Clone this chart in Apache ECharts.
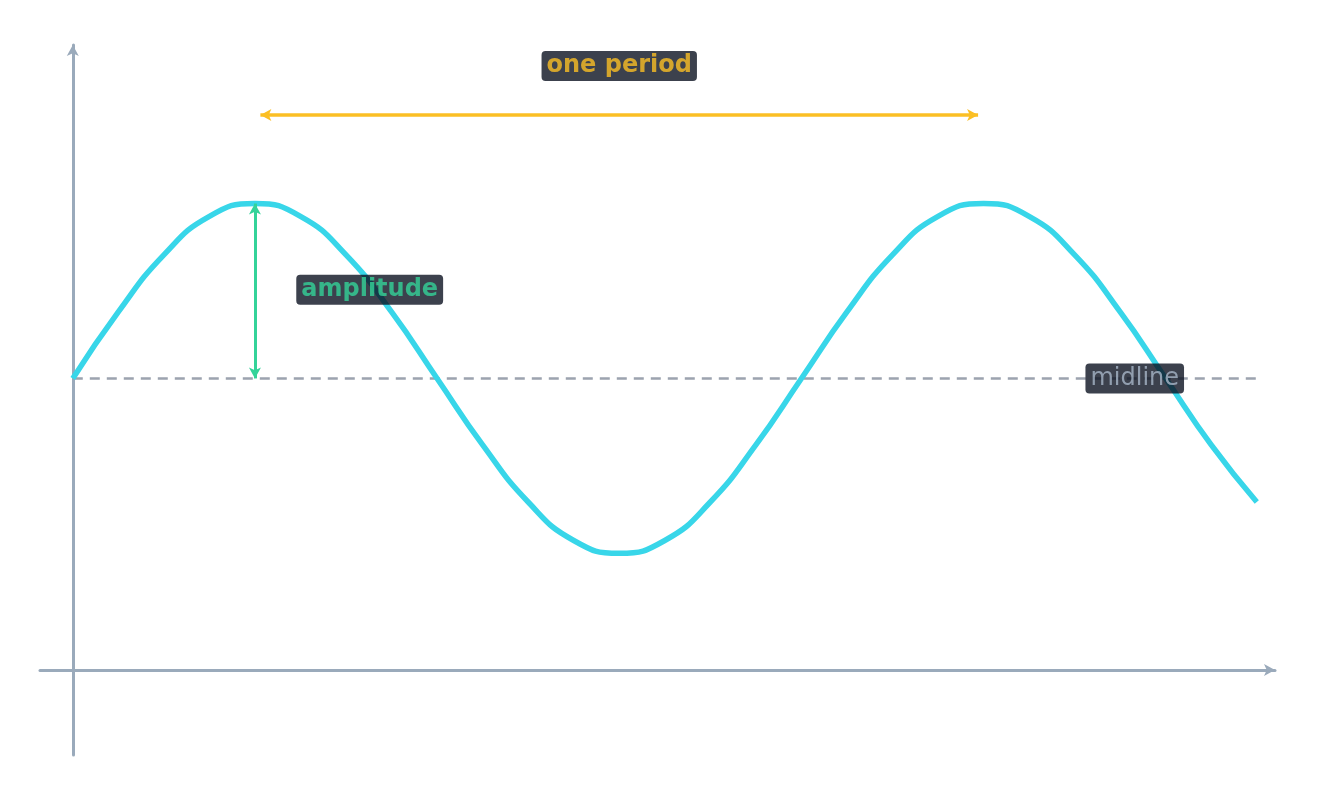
<!DOCTYPE html>
<html><head><meta charset="utf-8">
<script src="https://cdn.jsdelivr.net/npm/echarts@6/dist/echarts.min.js"></script>
<style>html,body{margin:0;padding:0;background:#fff}#c{width:1326px;height:786px}</style>
</head><body><div id="c"></div>
<script>
const xValues = [0,0.25,0.5,0.75,1,1.25,1.5,1.75,2,2.25,2.5,2.75,3,3.25,3.5,3.75,4,4.25,4.5,4.75,5,5.25,5.5,5.75,6,6.25,6.5];
const yValues = [2.5,3.07,3.56,3.89,4,3.89,3.56,3.07,2.5,1.93,1.44,1.11,1,1.11,1.44,1.93,2.5,3.07,3.56,3.89,4,3.89,3.56,3.07,2.5,1.93,1.44];
const midline = 2.5;
const midlineRange = [0, 6.5];
const amplitudeArrow = [[1, 2.5], [1, 4]];
const periodArrow = [[1.03, 4.76], [4.97, 4.76]];
const labels = [
  {name:'one period', pos:[3, 5.18], color:'#fbbf24', bold:true},
  {name:'amplitude', pos:[1.63, 3.26], color:'#34d399', bold:true},
  {name:'midline', pos:[5.83, 2.5], color:'#a8b6c8', bold:false}
];

const chart = echarts.init(document.getElementById('c'));
const axisStyle = {show:true, onZero:true, symbol:['none','arrow'], symbolSize:[9,11], lineStyle:{color:'#9aaabb', width:3}};
chart.setOption({
  animation:false,
  grid:{left:40, top:45, width:1235, height:710},
  xAxis:{type:'value', min:-0.18, max:6.6, axisLine:axisStyle, axisTick:{show:false}, axisLabel:{show:false}, splitLine:{show:false}},
  yAxis:{type:'value', min:-0.73, max:5.36, axisLine:axisStyle, axisTick:{show:false}, axisLabel:{show:false}, splitLine:{show:false}},
  series:[
    {type:'line', data:midlineRange.map(x=>[x, midline]), symbol:'none', lineStyle:{color:'#9ca3af', width:2.5, type:[10,7]}, z:1},
    {type:'line', data:xValues.map((x,i)=>[x, yValues[i]]), smooth:true, symbol:'none', lineStyle:{color:'#38d6e9', width:5.5}, z:2,
     markLine:{silent:true, symbol:['arrow','arrow'], symbolSize:[9,11], label:{show:false},
       data:[
         [{coord:amplitudeArrow[0], lineStyle:{color:'#34d399', width:3, type:'solid'}}, {coord:amplitudeArrow[1]}],
         [{coord:periodArrow[0], lineStyle:{color:'#fbbf24', width:3.5, type:'solid'}}, {coord:periodArrow[1]}]
       ]}},
    {type:'scatter', symbolSize:0, z:5,
     data:labels.map(l=>({value:l.pos, label:{show:true, position:'inside', formatter:l.name, color:l.color,
       fontWeight:l.bold?'bold':'normal', fontSize:24, fontFamily:'DejaVu Sans',
       backgroundColor:'#0b1120', padding:[4,5,2,5], borderRadius:4}}))}
  ]
});
</script></body></html>
